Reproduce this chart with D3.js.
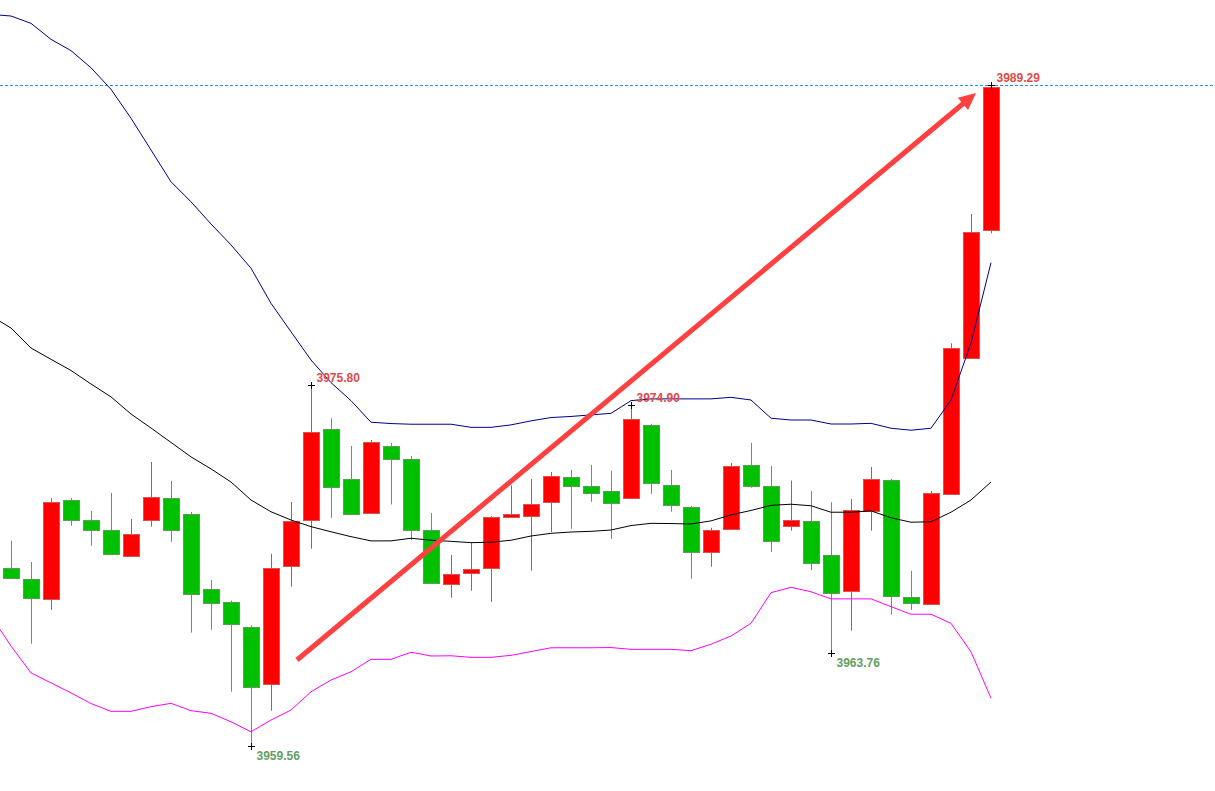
<!DOCTYPE html>
<html>
<head>
<meta charset="utf-8">
<script src="https://cdn.jsdelivr.net/npm/d3@7"></script>
<style>
  html, body { margin: 0; padding: 0; background: #fff; }
  svg { display: block; }
</style>
</head>
<body>
<svg id="chart" width="1215" height="791"></svg>
<script>
// candles, index 0..49
const opens = [3967.56, 3967.06, 3966.16, 3970.62, 3969.72, 3969.27, 3968.12, 3969.70, 3970.71, 3969.99,
  3966.61, 3966.03, 3964.90, 3962.34, 3967.63, 3969.72, 3973.81, 3971.56, 3970.03, 3973.05,
  3972.46, 3969.27, 3966.85, 3967.33, 3967.56, 3969.85, 3969.90, 3970.53, 3971.65, 3971.25,
  3971.02, 3970.71, 3973.99, 3971.29, 3970.30, 3968.28, 3969.31, 3972.19, 3971.25, 3969.45,
  3969.67, 3968.14, 3966.52, 3970.10, 3971.52, 3966.28, 3965.94, 3970.89, 3977.01, 3982.77];
const highs = [3968.80, 3967.84, 3970.71, 3970.72, 3970.14, 3970.95, 3969.78, 3972.34, 3971.49, 3970.09,
  3967.03, 3966.10, 3964.99, 3968.21, 3970.54, 3975.80, 3974.31, 3973.06, 3973.33, 3973.20,
  3972.61, 3970.05, 3968.16, 3968.71, 3969.90, 3971.29, 3971.58, 3971.89, 3971.98, 3972.21,
  3971.95, 3974.90, 3974.06, 3971.98, 3970.36, 3969.38, 3972.30, 3973.20, 3972.16, 3971.50,
  3971.04, 3970.53, 3970.68, 3972.12, 3971.58, 3967.44, 3971.04, 3977.68, 3983.50, 3989.29];
const lows = [3967.11, 3964.16, 3965.69, 3969.47, 3968.57, 3968.21, 3968.12, 3969.43, 3968.75, 3964.66,
  3964.79, 3962.00, 3959.56, 3961.15, 3966.73, 3968.44, 3969.83, 3969.99, 3970.03, 3970.43,
  3968.82, 3966.88, 3966.23, 3966.55, 3966.05, 3969.85, 3967.45, 3969.19, 3969.34, 3970.55,
  3968.88, 3970.71, 3970.91, 3970.10, 3967.09, 3967.63, 3969.31, 3971.18, 3968.29, 3969.25,
  3967.48, 3963.76, 3964.75, 3969.25, 3965.47, 3965.68, 3965.94, 3970.89, 3977.01, 3982.63];
const closes = [3967.11, 3966.21, 3970.53, 3969.74, 3969.29, 3968.21, 3969.09, 3970.75, 3969.25, 3966.41,
  3965.98, 3965.04, 3962.20, 3967.56, 3969.67, 3973.68, 3971.20, 3969.99, 3973.24, 3972.46,
  3969.27, 3966.88, 3967.29, 3967.51, 3969.85, 3969.99, 3970.44, 3971.70, 3971.25, 3970.93,
  3970.48, 3974.26, 3971.38, 3970.37, 3968.28, 3969.27, 3972.15, 3971.25, 3968.77, 3969.72,
  3967.78, 3966.43, 3970.17, 3971.56, 3966.30, 3966.03, 3970.93, 3977.46, 3982.68, 3989.20];

// bollinger bands, index -1..49 (first point is the bar just off the left edge)
const bandUpper = [3992.48, 3992.41, 3992.08, 3991.36, 3990.85, 3990.08, 3989.11, 3987.81, 3986.38, 3984.95,
  3984.05, 3983.05, 3982.11, 3981.06, 3979.48, 3978.20, 3976.93, 3975.91, 3975.10, 3974.13,
  3974.07, 3974.04, 3974.04, 3974.04, 3973.90, 3973.90, 3974.01, 3974.19, 3974.34, 3974.39,
  3974.46, 3974.53, 3975.10, 3975.18, 3975.18, 3975.18, 3975.18, 3975.25, 3975.13, 3974.31,
  3974.23, 3974.23, 3974.05, 3974.05, 3974.08, 3973.86, 3973.77, 3973.86, 3975.13, 3977.70, 3981.31];
const bandMid = [3978.91, 3978.37, 3977.47, 3976.96, 3976.46, 3975.85, 3975.27, 3974.50, 3973.87, 3973.22,
  3972.57, 3972.03, 3971.44, 3970.63, 3970.10, 3969.73, 3969.43, 3969.20, 3968.98, 3968.79,
  3968.79, 3968.91, 3968.82, 3968.77, 3968.71, 3968.73, 3968.82, 3969.01, 3969.13, 3969.19,
  3969.22, 3969.28, 3969.48, 3969.58, 3969.57, 3969.55, 3969.69, 3969.96, 3970.16, 3970.39,
  3970.44, 3970.37, 3970.08, 3970.08, 3970.14, 3969.83, 3969.63, 3969.65, 3970.08, 3970.63, 3971.44];
const bandLower = [3965.41, 3964.06, 3962.85, 3962.40, 3961.95, 3961.47, 3961.12, 3961.12, 3961.33, 3961.48,
  3961.15, 3961.03, 3960.65, 3960.20, 3960.73, 3961.18, 3962.00, 3962.53, 3962.90, 3963.46,
  3963.46, 3963.78, 3963.61, 3963.62, 3963.55, 3963.55, 3963.64, 3963.81, 3963.98, 3963.98,
  3963.98, 3963.99, 3963.91, 3963.91, 3963.91, 3963.85, 3964.14, 3964.51, 3965.08, 3966.46,
  3966.70, 3966.50, 3966.18, 3966.18, 3966.18, 3965.83, 3965.49, 3965.49, 3965.08, 3963.80, 3961.71];

// marked extremes (bar index + which end)
const markIndex = [49, 15, 31, 12, 41];
const markType = ["high", "high", "high", "low", "low"];

// hand-drawn arrow, in bar index / price
const arrowIndex = [14.3, 48.25];
const arrowPrice = [3963.43, 3988.95];

const svg = d3.select("#chart");
const width = +svg.attr("width");
const height = +svg.attr("height");

const x = d3.scaleLinear().domain([0, 49]).range([11, 991]);
const y = d3.scaleLinear().domain([3957.535, 3993.13]).range([height, 0]);

const upColor = "#ff0000", upEdge = "#d9534f";
const downColor = "#00c000", downEdge = "#5a9e5a";

render();

function render() {
  svg.append("rect").attr("width", width).attr("height", height).attr("fill", "#fff");

  // last high price line
  const py = Math.round(y(highs[49])) + 0.5;
  svg.append("line")
    .attr("x1", 0).attr("x2", width)
    .attr("y1", py).attr("y2", py)
    .attr("stroke", "#1e90ff")
    .attr("stroke-dasharray", "3,2");

  drawCandles();
  drawBands();
  drawArrow();
  drawMarks();
}

function drawCandles() {
  const bars = d3.range(opens.length).map(i => ({
    i, o: opens[i], h: highs[i], l: lows[i], c: closes[i], up: closes[i] >= opens[i]
  }));

  const g = svg.append("g");

  g.selectAll("line.wick")
    .data(bars)
    .enter()
    .append("line")
    .attr("class", "wick")
    .attr("x1", d => Math.round(x(d.i)) + 0.5)
    .attr("x2", d => Math.round(x(d.i)) + 0.5)
    .attr("y1", d => y(d.h))
    .attr("y2", d => y(d.l))
    .attr("stroke", d => d.up ? "#c8504c" : "#5a9e5a")
    .attr("stroke-width", 1);

  g.selectAll("rect.body")
    .data(bars)
    .enter()
    .append("rect")
    .attr("class", "body")
    .attr("x", d => Math.round(x(d.i)) - 7.5)
    .attr("width", 16)
    .attr("y", d => Math.round(y(Math.max(d.o, d.c))) + 0.5)
    .attr("height", d => Math.max(2, Math.round(y(Math.min(d.o, d.c)) - y(Math.max(d.o, d.c)))))
    .attr("fill", d => d.up ? upColor : downColor)
    .attr("stroke", d => d.up ? upEdge : downEdge)
    .attr("stroke-width", 1);
}

function drawBands() {
  const line = d3.line()
    .x((d, k) => x(k - 1))
    .y(d => y(d));

  const bands = [
    [bandUpper, "#00008b"],
    [bandMid, "#000000"],
    [bandLower, "#ff00ff"]
  ];

  bands.forEach(([vals, color]) => {
    svg.append("path")
      .datum(vals)
      .attr("d", line)
      .attr("fill", "none")
      .attr("stroke", color)
      .attr("stroke-width", 1);
  });
}

function drawArrow() {
  const x0 = x(arrowIndex[0]), y0 = y(arrowPrice[0]);
  const x1 = x(arrowIndex[1]), y1 = y(arrowPrice[1]);
  const ang = Math.atan2(y1 - y0, x1 - x0);
  const headLen = 17, headHalf = 8;
  const bx = x1 - headLen * Math.cos(ang), by = y1 - headLen * Math.sin(ang);

  svg.append("line")
    .attr("x1", x0).attr("y1", y0)
    .attr("x2", bx + 2 * Math.cos(ang)).attr("y2", by + 2 * Math.sin(ang))
    .attr("stroke", "#ff4040")
    .attr("stroke-width", 5);

  const px = -Math.sin(ang), pyv = Math.cos(ang);
  svg.append("path")
    .attr("d", `M${x1},${y1}L${bx + headHalf * px},${by + headHalf * pyv}L${bx - headHalf * px},${by - headHalf * pyv}Z`)
    .attr("fill", "#ff4040");
}

function drawMarks() {
  const g = svg.append("g");
  markIndex.forEach((i, k) => {
    const isHigh = markType[k] === "high";
    const v = isHigh ? highs[i] : lows[i];
    const cx = Math.round(x(i)) + 0.5;
    const cy = Math.round(y(v)) + 0.5;

    g.append("line")
      .attr("x1", cx - 3.5).attr("x2", cx + 3.5)
      .attr("y1", cy).attr("y2", cy)
      .attr("stroke", "#000");
    g.append("line")
      .attr("x1", cx).attr("x2", cx)
      .attr("y1", cy - 3.5).attr("y2", cy + 3.5)
      .attr("stroke", "#000");

    g.append("text")
      .attr("x", cx + 5)
      .attr("y", isHigh ? cy - 4 : cy + 13)
      .attr("font-family", "'Liberation Sans', Arial, sans-serif")
      .attr("font-weight", "bold")
      .attr("font-size", 12)
      .attr("fill", isHigh ? "#e24a4a" : "#62a062")
      .text(v.toFixed(2));
  });
}
</script>
</body>
</html>
